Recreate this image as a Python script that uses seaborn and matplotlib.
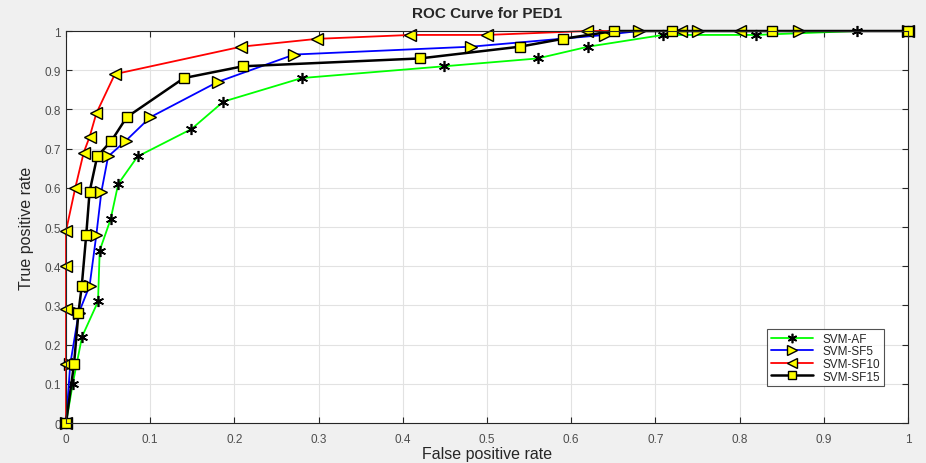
"""ROC curves for PED1: SVM with all features vs selected feature subsets."""

import matplotlib

matplotlib.use("Agg")
import matplotlib.pyplot as plt
import pandas as pd
import seaborn as sns

# --- data ---
af_fpr = [0, 0.008, 0.019, 0.038, 0.040, 0.053, 0.062, 0.085, 0.149, 0.187,
          0.28, 0.449, 0.56, 0.62, 0.709, 0.819, 0.939, 1.0]
af_tpr = [0, 0.10, 0.22, 0.31, 0.44, 0.52, 0.61, 0.68, 0.75, 0.82,
          0.88, 0.91, 0.93, 0.96, 0.99, 0.99, 1.0, 1.0]

sf5_fpr = [0, 0.005, 0.015, 0.028, 0.036, 0.042, 0.050, 0.071, 0.10, 0.180,
           0.271, 0.481, 0.640, 0.680, 0.750, 0.871, 1.0]
sf5_tpr = [0, 0.15, 0.28, 0.35, 0.48, 0.59, 0.68, 0.72, 0.78, 0.87,
           0.94, 0.96, 0.99, 1.0, 1.0, 1.0, 1.0]

sf10_fpr = [0, 0, 0, 0, 0, 0.011, 0.021, 0.028, 0.036, 0.058, 0.208,
            0.298, 0.409, 0.50, 0.619, 0.73, 0.80, 1.0]
sf10_tpr = [0, 0.15, 0.29, 0.40, 0.49, 0.60, 0.69, 0.73, 0.79, 0.89, 0.96,
            0.98, 0.99, 0.99, 1.0, 1.0, 1.0, 1.0]

sf15_fpr = [0, 0.0095, 0.0147, 0.0187, 0.024, 0.028, 0.037, 0.054, 0.072, 0.14,
            0.21, 0.42, 0.539, 0.59, 0.651, 0.72, 0.839, 1.0]
sf15_tpr = [0, 0.15, 0.28, 0.35, 0.48, 0.59, 0.68, 0.72, 0.78, 0.88,
            0.91, 0.93, 0.96, 0.98, 1.0, 1.0, 1.0, 1.0]

series_names = ["SVM-AF", "SVM-SF5", "SVM-SF10", "SVM-SF15"]
ticks = [i / 10 for i in range(11)]
tick_labels = ["0", "0.1", "0.2", "0.3", "0.4", "0.5", "0.6", "0.7", "0.8", "0.9", "1"]

sns.set_style("whitegrid")
plt.rcParams["font.family"] = ["Liberation Sans", "DejaVu Sans"]

fig = plt.figure(figsize=(9.26, 4.64), dpi=100, facecolor="#f0f0f0")
ax = fig.add_axes([0.0713, 0.0862, 0.9093, 0.8448])
ax.set_facecolor("white")

styles = [
    dict(color="#00ff00", marker=(6, 2, 0), markersize=8, markeredgecolor="black",
         markeredgewidth=1.2, linewidth=1.3),
    dict(color="#0000ff", marker=">", markersize=9, markerfacecolor="#ffff00",
         markeredgecolor="black", markeredgewidth=1.0, linewidth=1.3),
    dict(color="#ff0000", marker="<", markersize=9, markerfacecolor="#ffff00",
         markeredgecolor="black", markeredgewidth=1.0, linewidth=1.3),
    dict(color="black", marker="s", markersize=7.5, markerfacecolor="#ffff00",
         markeredgecolor="black", markeredgewidth=1.0, linewidth=1.8),
]

curves = [(af_fpr, af_tpr), (sf5_fpr, sf5_tpr), (sf10_fpr, sf10_tpr), (sf15_fpr, sf15_tpr)]
for name, (fpr, tpr), st in zip(series_names, curves, styles):
    df = pd.DataFrame({"fpr": fpr, "tpr": tpr})
    sns.lineplot(data=df, x="fpr", y="tpr", ax=ax, sort=False, estimator=None,
                 label=name, clip_on=False, **st)

ax.set_xlim(0, 1)
ax.set_ylim(0, 1)
ax.set_xticks(ticks)
ax.set_xticklabels(tick_labels)
ax.set_yticks(ticks)
ax.set_yticklabels(tick_labels)
ax.grid(True, color="#e2e2e2", linewidth=0.8)
ax.tick_params(direction="in", length=4, width=0.8, colors="#262626",
               labelcolor="#4d4d4d", labelsize=8.5,
               top=True, right=True, bottom=True, left=True)
ax.tick_params(axis="x", pad=7)
for side in ax.spines.values():
    side.set_color("#262626")
    side.set_linewidth(0.8)

ax.set_title("ROC Curve for PED1", fontsize=11, fontweight="bold", pad=10)
ax.set_xlabel("False positive rate", fontsize=11.5, labelpad=1, color="#262626")
ax.set_ylabel("True positive rate", fontsize=11.5, labelpad=8, color="#262626")

leg = ax.legend(loc="lower right", bbox_to_anchor=(0.9715, 0.094), borderaxespad=0,
                fontsize=8.5, frameon=True, fancybox=False, edgecolor="#262626",
                handlelength=3.6, borderpad=0.3, labelspacing=0.05, markerscale=0.85)
leg.get_frame().set_linewidth(0.8)

fig.savefig("out.png", dpi=100, facecolor=fig.get_facecolor())
